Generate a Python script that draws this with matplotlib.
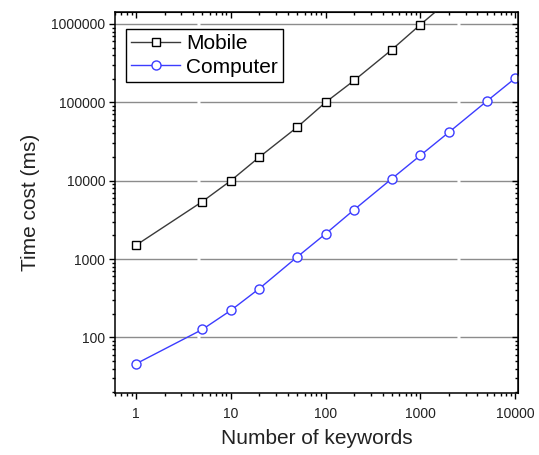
import matplotlib.pyplot as plt
from matplotlib.ticker import LogLocator, NullFormatter, FixedLocator, FixedFormatter

plt.rcParams['font.family'] = ['Liberation Sans', 'DejaVu Sans']

# measured timings (ms) per number of keywords
mobile_x = [1, 5, 10, 20, 50, 100, 200, 500, 1000, 2000]
mobile_ms = [1500, 5400, 10000, 20000, 48000, 100000, 190000, 470000, 980000, 2000000]
computer_x = [1, 5, 10, 20, 50, 100, 200, 500, 1000, 2000, 5000, 10000]
computer_ms = [46, 126, 221, 420, 1060, 2100, 4260, 10600, 21000, 41500, 103000, 203000]

x_ticks = [1, 10, 100, 1000, 10000]
y_ticks = [100, 1000, 10000, 100000, 1000000]

fig = plt.figure(figsize=(5.39, 4.55), dpi=100)
ax = fig.add_axes([0.2134, 0.1363, 0.7476, 0.8373])
ax.set_xscale('log')
ax.set_yscale('log')
ax.set_xlim(0.6, 10700)
ax.set_ylim(19.5, 1.42e6)

# horizontal grid with the small breaks
for yv in y_ticks:
    ax.axhline(yv, color='#8c8c8c', lw=1.0, zorder=0,
               linestyle=(126, (185, 2.2)))

ax.plot(mobile_x, mobile_ms, color='#3a3a3a', lw=1.0, marker='s', ms=5.5,
        mfc='white', mec='black', mew=1.0, label='Mobile')
ax.plot(computer_x, computer_ms, color='#3c3cff', lw=1.0, marker='o', ms=6.5,
        mfc='white', mec='#3c3cff', mew=1.0, label='Computer')

ax.xaxis.set_major_locator(FixedLocator(x_ticks))
ax.xaxis.set_major_formatter(FixedFormatter([str(v) for v in x_ticks]))
ax.yaxis.set_major_locator(FixedLocator(y_ticks))
ax.yaxis.set_major_formatter(FixedFormatter([str(v) for v in y_ticks]))
for axis in (ax.xaxis, ax.yaxis):
    axis.set_minor_locator(LogLocator(base=10, subs=range(2, 10), numticks=20))
    axis.set_minor_formatter(NullFormatter())

ax.tick_params(which='both', direction='out', color='black', labelsize=10,
               labelcolor='#222222', width=1.0)
ax.tick_params(which='major', length=4)
ax.tick_params(which='minor', length=2.5)
ax.tick_params(axis='x', which='major', pad=6)
ax.tick_params(axis='y', which='major', pad=3)
for s in ax.spines.values():
    s.set_linewidth(1.1)

# mirrored ticks on top and right, pointing inward
top = ax.secondary_xaxis('top')
top.xaxis.set_major_locator(FixedLocator(x_ticks))
top.xaxis.set_minor_locator(LogLocator(base=10, subs=range(2, 10), numticks=20))
top.tick_params(which='both', direction='in', labeltop=False, width=1.0)
top.tick_params(which='major', length=4)
top.tick_params(which='minor', length=2.5)
right = ax.secondary_yaxis('right')
right.yaxis.set_major_locator(FixedLocator(y_ticks))
right.yaxis.set_minor_locator(LogLocator(base=10, subs=range(2, 10), numticks=20))
right.tick_params(which='both', direction='in', labelright=False, width=1.0)
right.tick_params(which='major', length=4)
right.tick_params(which='minor', length=2.5)

ax.set_xlabel('Number of keywords', fontsize=15, color='#222222', labelpad=6)
ax.set_ylabel('Time cost (ms)', fontsize=15, color='#222222', labelpad=8)

leg = ax.legend(loc='upper left', bbox_to_anchor=(0.027, 0.955), fontsize=15,
                fancybox=False, edgecolor='black', framealpha=1,
                borderpad=0.25, handlelength=2.35, handletextpad=0.3,
                labelspacing=0.2, borderaxespad=0)
leg.get_frame().set_linewidth(1.0)

fig.savefig('out.png', dpi=100)
